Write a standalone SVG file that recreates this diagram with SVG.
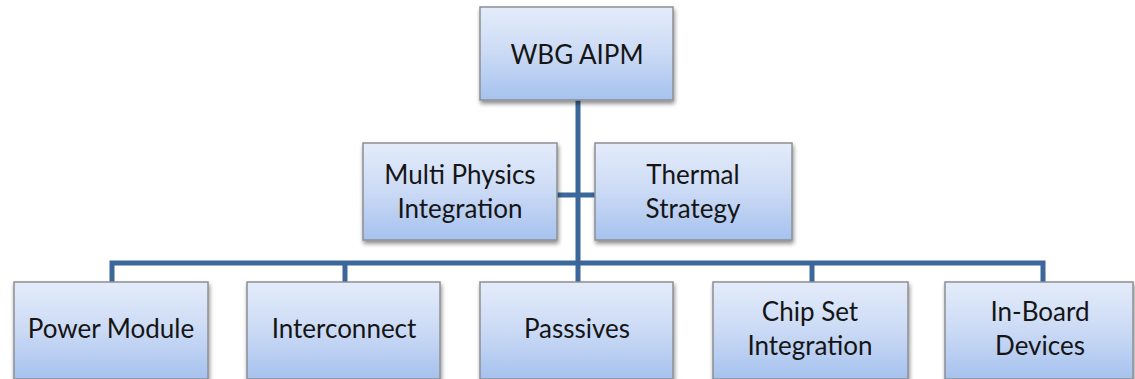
<svg xmlns="http://www.w3.org/2000/svg" width="1135" height="379" viewBox="0 0 1135 379">
<defs>
<linearGradient id="g" x1="0" y1="0" x2="0" y2="1">
<stop offset="0" stop-color="#e4ecfa"/>
<stop offset="0.5" stop-color="#cbdaf5"/>
<stop offset="1" stop-color="#a6c2ee"/>
</linearGradient>
<filter id="sh" x="-10%" y="-10%" width="130%" height="130%">
<feGaussianBlur in="SourceAlpha" stdDeviation="2"/>
<feOffset dx="1" dy="3" result="o"/>
<feComponentTransfer><feFuncA type="linear" slope="0.45"/></feComponentTransfer>
<feMerge><feMergeNode/><feMergeNode in="SourceGraphic"/></feMerge>
</filter>
</defs>
<style>
.box{fill:url(#g);stroke:#8c8f94;stroke-width:1.5;filter:url(#sh)}
.t{font-family:Lato,"Open Sans",sans-serif;font-size:26px;fill:#151515;text-anchor:middle}
.c{fill:none;stroke:#3b679a;stroke-width:5}
</style>
<g id="connectors">
<path class="c" d="M578 100 V282"/>
<path class="c" d="M557 195 H595"/>
<path class="c" d="M112 282 V263 H1043 V282"/>
<path class="c" d="M345 263 V282"/>
<path class="c" d="M812 263 V282"/>
</g>
<g id="root"><rect class="box" x="480" y="7" width="193" height="93"/><text class="t" x="577" y="64">WBG AIPM</text></g>
<g id="multi"><rect class="box" x="363" y="143" width="194" height="97"/><text class="t" x="460" y="184">Multi Physics</text><text class="t" x="460" y="218">Integration</text></g>
<g id="thermal"><rect class="box" x="595" y="143" width="197" height="97"/><text class="t" x="693" y="184">Thermal</text><text class="t" x="693" y="218">Strategy</text></g>
<g id="power"><rect class="box" x="14" y="282" width="194" height="97"/><text class="t" x="111" y="338">Power Module</text></g>
<g id="interconnect"><rect class="box" x="247" y="282" width="193" height="97"/><text class="t" x="344" y="338">Interconnect</text></g>
<g id="passives"><rect class="box" x="480" y="282" width="193" height="97"/><text class="t" x="577" y="338">Passsives</text></g>
<g id="chipset"><rect class="box" x="713" y="282" width="195" height="97"/><text class="t" x="810" y="321">Chip Set</text><text class="t" x="810" y="355">Integration</text></g>
<g id="inboard"><rect class="box" x="945" y="282" width="188" height="97"/><text class="t" x="1040" y="321">In-Board</text><text class="t" x="1040" y="355">Devices</text></g>
</svg>
